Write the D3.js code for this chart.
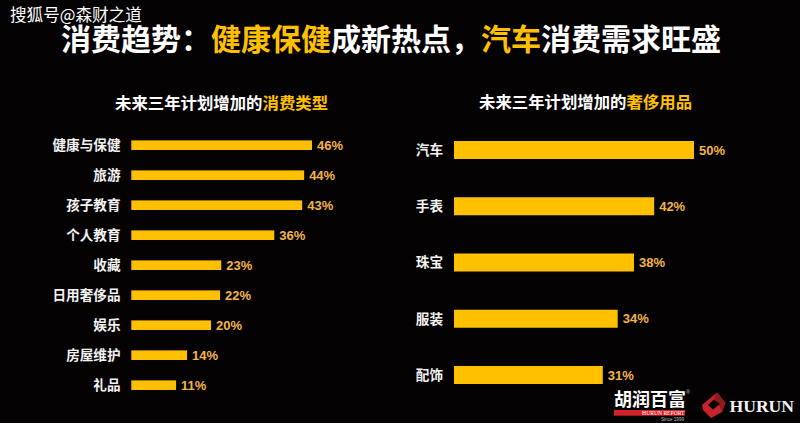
<!DOCTYPE html>
<html>
<head>
<meta charset="utf-8">
<script src="https://cdn.jsdelivr.net/npm/d3@7"></script>
<style>
html, body { margin: 0; padding: 0; background: #050203; }
svg { display: block; }
text { font-family: "Noto Sans CJK SC", sans-serif; }
</style>
</head>
<body>
<div id="chart"></div>
<script>
const typeCategories = ['健康与保健', '旅游', '孩子教育', '个人教育', '收藏', '日用奢侈品', '娱乐', '房屋维护', '礼品'];
// bar lengths as measured, they differ a little from the printed labels
const typeValues = [46, 44, 43.5, 36.4, 22.9, 22.6, 20.3, 14.2, 11.4];
const typeLabels = ['46%', '44%', '43%', '36%', '23%', '22%', '20%', '14%', '11%'];
const luxuryCategories = ['汽车', '手表', '珠宝', '服装', '配饰'];
const luxuryValues = [50, 41.7, 37.5, 34.1, 31];
const luxuryLabels = ['50%', '42%', '38%', '34%', '31%'];

const yellow = '#ffc000';
const labelYellow = '#f3b54a';

let svg = d3.select('#chart').append('svg')
	.attr('width', 800)
	.attr('height', 423);

svg.append('rect')
	.attr('width', 800)
	.attr('height', 423)
	.attr('fill', '#050203');

// text with highlighted words
function mixedText(x, y, size, weight, parts) {
	let t = svg.append('text')
		.attr('x', x)
		.attr('y', y)
		.attr('font-size', size)
		.attr('font-weight', weight);
	parts.forEach(p => {
		t.append('tspan').attr('fill', p[1]).text(p[0]);
	});
	return t;
}

mixedText(61, 50, 30, 700, [
	['消费趋势：', '#fff'],
	['健康保健', yellow],
	['成新热点，', '#fff'],
	['汽车', yellow],
	['消费需求旺盛', '#fff']
]);

svg.append('text')
	.attr('x', 10)
	.attr('y', 21)
	.attr('font-size', 16.6)
	.attr('fill', '#fff')
	.text('搜狐号@森财之道');

mixedText(115, 109, 16.4, 700, [['未来三年计划增加的', '#fff'], ['消费类型', yellow]]);
mixedText(479, 107.5, 16.4, 700, [['未来三年计划增加的', '#fff'], ['奢侈用品', yellow]]);

function drawBars(cats, vals, labels, opt) {
	let x = d3.scaleLinear()
		.domain([0, opt.maxVal])
		.range([opt.left, opt.right]);
	let y = d3.scalePoint()
		.domain(cats)
		.range([opt.top, opt.bottom]);

	let g = svg.append('g');

	g.selectAll('rect')
		.data(vals)
		.enter()
		.append('rect')
		.attr('x', x(0))
		.attr('y', (d, i) => y(cats[i]) - opt.barH / 2)
		.attr('width', d => x(d) - x(0))
		.attr('height', opt.barH)
		.attr('fill', yellow);

	g.selectAll('text.cat')
		.data(cats)
		.enter()
		.append('text')
		.attr('class', 'cat')
		.attr('x', opt.labelX)
		.attr('y', d => y(d))
		.attr('dy', '0.36em')
		.attr('text-anchor', 'end')
		.attr('fill', '#f2f2f2')
		.attr('font-size', 13.6)
		.attr('font-weight', 700)
		.text(d => d);

	g.selectAll('text.val')
		.data(vals)
		.enter()
		.append('text')
		.attr('class', 'val')
		.attr('x', d => x(d) + 5)
		.attr('y', (d, i) => y(cats[i]))
		.attr('dy', '0.36em')
		.attr('fill', labelYellow)
		.attr('font-size', 13)
		.attr('font-weight', 700)
		.style('font-family', '"Liberation Sans", sans-serif')
		.text((d, i) => labels[i]);
}

drawBars(typeCategories, typeValues, typeLabels, {
	left: 131.3, right: 312, maxVal: 46, top: 145.2, bottom: 385.2, barH: 9.6, labelX: 120.5
});
drawBars(luxuryCategories, luxuryValues, luxuryLabels, {
	left: 454, right: 694, maxVal: 50, top: 150, bottom: 375, barH: 18, labelX: 443
});

// logos
let logo = svg.append('g');
logo.append('text')
	.attr('x', 650)
	.attr('y', 406)
	.attr('text-anchor', 'middle')
	.attr('fill', '#fff')
	.attr('font-size', 18)
	.attr('font-weight', 700)
	.text('胡润百富');
logo.append('text')
	.attr('x', 688)
	.attr('y', 394)
	.attr('text-anchor', 'middle')
	.attr('fill', '#ccc')
	.attr('font-size', 5)
	.style('font-family', '"Liberation Sans", sans-serif')
	.text('®');
logo.append('rect')
	.attr('x', 614)
	.attr('y', 410)
	.attr('width', 71)
	.attr('height', 5.7)
	.attr('fill', '#d2232a');
logo.append('text')
	.attr('x', 684.5)
	.attr('y', 415)
	.attr('text-anchor', 'end')
	.attr('fill', '#fff')
	.attr('font-size', 5.6)
	.style('font-family', '"Liberation Serif", serif')
	.text('HURUN REPORT');
logo.append('text')
	.attr('x', 684)
	.attr('y', 421)
	.attr('text-anchor', 'end')
	.attr('fill', '#bbb')
	.attr('font-size', 4.6)
	.style('font-family', '"Liberation Sans", sans-serif')
	.text('Since 1999');

let mark = svg.append('g');
mark.append('path').attr('d', 'M702,405 L717,392.5 L725.5,403 L722,412 L711,418 L703,410 Z').attr('fill', '#c8232c');
mark.append('path').attr('d', 'M717,392.5 L725.5,403 L722,412 L719,404 L714,399 Z').attr('fill', '#8e1a20');
mark.append('path').attr('d', 'M708,405 L714,399.5 L720,404 L713,409.5 Z').attr('fill', '#050203');

svg.append('text')
	.attr('x', 729.5)
	.attr('y', 412)
	.attr('fill', '#f2f2f2')
	.attr('font-size', 17.6)
	.attr('font-weight', 700)
	.style('font-family', '"Liberation Serif", serif')
	.text('HURUN');
</script>
</body>
</html>
